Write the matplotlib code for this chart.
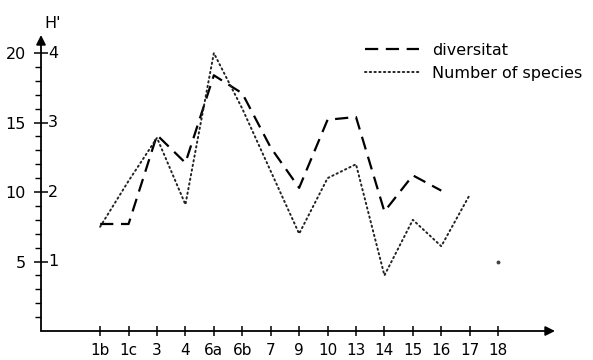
import numpy as np
import matplotlib
matplotlib.use("Agg")
import matplotlib.pyplot as plt

plt.rcParams['font.family'] = ['DejaVu Sans']
plt.rcParams['lines.scale_dashes'] = False

# sampling stations along the x axis
stations = ["1b", "1c", "3", "4", "6a", "6b", "7", "9", "10", "13", "14", "15", "16", "17", "18"]

# diversity H' (right scale, 0-4) -- ends at station 16
diversity = [1.54, 1.54, 2.82, 2.42, 3.68, 3.42, 2.64, 2.06, 3.04, 3.08, 1.72, 2.24, 2.02]

# number of species (left scale, 0-20)
species = [7.5, 10.8, 13.9, 9.1, 20.0, 16.0, 11.5, 7.0, 11.0, 12.0, 4.0, 8.0, 6.1, 9.8, 5.0]

left_ticks = [5, 10, 15, 20]
right_labels = ["1", "2", "3", "4"]

W, H = 593, 360
fig = plt.figure(figsize=(W / 100, H / 100), dpi=100)
x0, x1, y0, y1 = 41, 555, 331, 35
ax = fig.add_axes([x0 / W, 1 - y0 / H, (x1 - x0) / W, (y0 - y1) / H])

x = np.arange(len(stations))
ax.set_xlim(-2.08, 16.0)
ax.set_ylim(0, 21.3)

# H' is drawn on the same axis: 1 unit of H' = 5 species
div_scaled = np.array(diversity) * 5
ax.plot(x[:len(diversity)], div_scaled, color='black', lw=1.6,
        linestyle=(0, (9.5, 5.5)), label="diversitat")
ax.plot(x[:-1], species[:-1], color='#222222', lw=1.4,
        linestyle=(0, (1.0, 2.4)), dash_capstyle='round', label="Number of species")
ax.plot(x[-1:], species[-1:], 'o', color='#444444', ms=1.8)

for s in ['top', 'right', 'left', 'bottom']:
    ax.spines[s].set_visible(False)

# axes with arrows
ax.annotate("", xy=(1.0, 0), xytext=(0, 0), xycoords='axes fraction',
            arrowprops=dict(arrowstyle='-|>', color='black', lw=1.3,
                            mutation_scale=14, shrinkA=0, shrinkB=0))
ax.annotate("", xy=(0, 1.0), xytext=(0, 0), xycoords='axes fraction',
            arrowprops=dict(arrowstyle='-|>', color='black', lw=1.3,
                            mutation_scale=14, shrinkA=0, shrinkB=0))

ax.set_xticks(x)
ax.set_xticklabels(stations, fontsize=11)
ax.tick_params(axis='x', direction='inout', length=7, width=1.1, pad=5)

ax.set_yticks(left_ticks)
ax.set_yticklabels([str(v) for v in left_ticks], fontsize=11.5)
ax.set_yticks(np.arange(1, 21), minor=True)
ax.tick_params(axis='y', which='major', direction='inout', length=10, width=1.1, pad=6)
ax.tick_params(axis='y', which='minor', direction='out', length=4, width=1.0)

# right-hand H' labels next to the axis
for v, lab in zip(left_ticks, right_labels):
    ax.annotate(lab, xy=(0, v), xycoords=('axes fraction', 'data'),
                xytext=(5, 0), textcoords='offset points',
                ha='left', va='center', fontsize=11.5)

fig.text(44 / W, 1 - 31 / H, "H'", fontsize=11.5, ha='left', va='bottom')

ax.legend(loc='upper left', bbox_to_anchor=(357 / W, 1 - 35 / H),
          bbox_transform=fig.transFigure, frameon=False, fontsize=11.5,
          handlelength=3.4, handletextpad=0.8, labelspacing=0.5, borderpad=0)

fig.savefig("out.png", dpi=100)
